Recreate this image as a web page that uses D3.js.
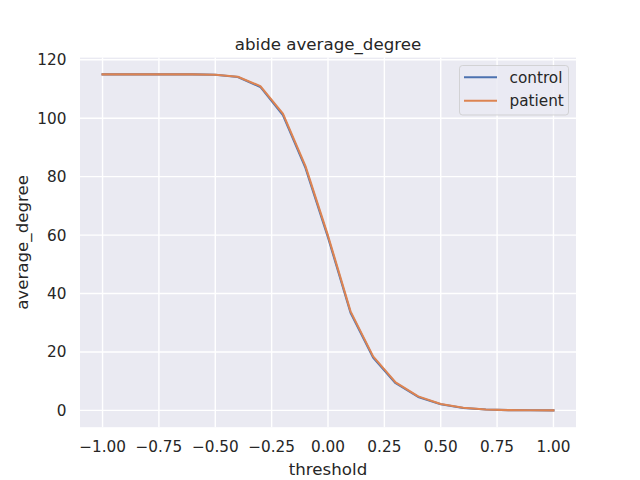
<!DOCTYPE html>
<html>
<head>
<meta charset="utf-8">
<script src="https://cdn.jsdelivr.net/npm/d3@7"></script>
<style>
  body { margin: 0; background: #fff; }
  text { font-family: "DejaVu Sans", sans-serif; fill: #262626; }
</style>
</head>
<body>
<svg id="chart" width="640" height="480"></svg>
<script>
const thresholds = [-1.0, -0.9, -0.8, -0.7, -0.6, -0.5, -0.4, -0.3, -0.2, -0.1, 0.0, 0.1, 0.2, 0.3, 0.4, 0.5, 0.6, 0.7, 0.8, 0.9, 1.0];
const controlValues = [115, 115, 115, 115, 115, 114.9, 114.1, 110.7, 101.1, 83.0, 59.2, 33.4, 18.1, 9.3, 4.6, 2.1, 0.8, 0.3, 0.1, 0.03, 0];
const patientValues = [115, 115, 115, 115, 115, 114.9, 114.2, 111.0, 101.6, 83.6, 59.8, 33.9, 18.5, 9.6, 4.8, 2.2, 0.9, 0.3, 0.1, 0.03, 0];
const xTicks = [-1.0, -0.75, -0.5, -0.25, 0.0, 0.25, 0.5, 0.75, 1.0];
const yTicks = [0, 20, 40, 60, 80, 100, 120];
const seriesNames = ["control", "patient"];
const seriesColors = ["#4C72B0", "#DD8452"];

(function () {
const svg = d3.select("#chart");
const pLeft = 80, pRight = 576, pTop = 57.6, pBottom = 427.2;

const x = d3.scaleLinear().domain([-1.1, 1.1]).range([pLeft, pRight]);
const y = d3.scaleLinear().domain([-5.75, 120.75]).range([pBottom, pTop]);

svg.append("rect").attr("x", pLeft).attr("y", pTop)
  .attr("width", pRight - pLeft).attr("height", pBottom - pTop)
  .attr("fill", "#EAEAF2");

// grid
svg.append("g").selectAll("line").data(xTicks).join("line")
  .attr("x1", d => x(d)).attr("x2", d => x(d))
  .attr("y1", pTop).attr("y2", pBottom)
  .attr("stroke", "#fff").attr("stroke-width", 1.4);
svg.append("g").selectAll("line").data(yTicks).join("line")
  .attr("x1", pLeft).attr("x2", pRight)
  .attr("y1", d => y(d)).attr("y2", d => y(d))
  .attr("stroke", "#fff").attr("stroke-width", 1.4);

// tick labels
const fmt = d3.format(".2f");
svg.append("g").selectAll("text").data(xTicks).join("text")
  .attr("x", d => x(d)).attr("y", 452)
  .attr("text-anchor", "middle").attr("font-size", "15.28px")
  .text(d => fmt(d));
svg.append("g").selectAll("text").data(yTicks).join("text")
  .attr("x", 66.5).attr("y", d => y(d) + 5.5)
  .attr("text-anchor", "end").attr("font-size", "15.28px")
  .text(d => d);

// axis labels
svg.append("text").attr("x", (pLeft + pRight) / 2).attr("y", 475)
  .attr("text-anchor", "middle").attr("font-size", "16.67px").text("threshold");
svg.append("text")
  .attr("transform", `translate(28,${(pTop + pBottom) / 2}) rotate(-90)`)
  .attr("text-anchor", "middle").attr("font-size", "16.67px").text("average_degree");
svg.append("text").attr("x", (pLeft + pRight) / 2).attr("y", 50)
  .attr("text-anchor", "middle").attr("font-size", "16.67px").text("abide average_degree");

// lines
const line = d3.line().x((d, i) => x(thresholds[i])).y(d => y(d));
[controlValues, patientValues].forEach((vals, k) => {
  svg.append("path").datum(vals)
    .attr("fill", "none").attr("stroke", seriesColors[k])
    .attr("stroke-width", 2.08).attr("stroke-linecap", "square")
    .attr("stroke-linejoin", "round")
    .attr("d", line);
});

// legend
const lg = svg.append("g");
lg.append("rect").attr("x", 459.5).attr("y", 65.5).attr("width", 109).attr("height", 49.5)
  .attr("rx", 3).attr("fill", "#EAEAF2").attr("fill-opacity", 0.8)
  .attr("stroke", "#cccccc").attr("stroke-opacity", 0.8).attr("stroke-width", 1);
seriesNames.forEach((name, k) => {
  const ly = 77.3 + k * 23.4;
  lg.append("line").attr("x1", 464).attr("x2", 497).attr("y1", ly).attr("y2", ly)
    .attr("stroke", seriesColors[k]).attr("stroke-width", 2.08);
  lg.append("text").attr("x", 509.5).attr("y", ly + 5.6)
    .attr("font-size", "15.28px").text(name);
});
})();
</script>
</body>
</html>
